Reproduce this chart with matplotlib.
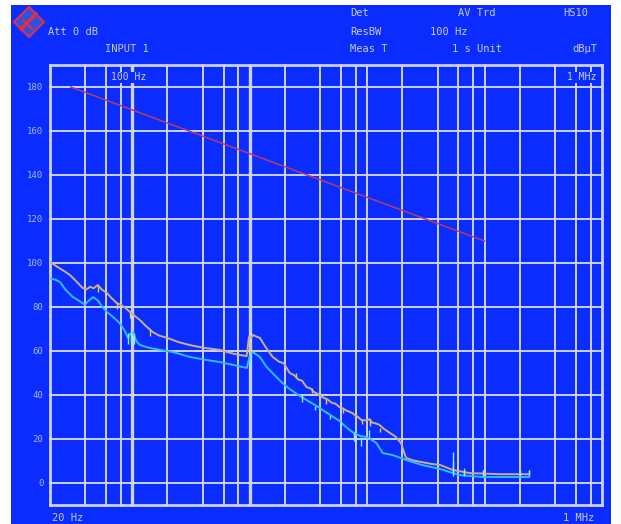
import numpy as np
import matplotlib.pyplot as plt
from matplotlib.patches import Rectangle, Polygon

# upper trace (tan)
f_upper = [20, 22, 24.3, 27, 29.6, 33, 38, 41, 43.8, 47, 51, 55, 61, 67, 74, 80, 86, 96, 105, 117,
           130, 150, 170, 198, 250, 310, 400, 557, 700, 824, 945, 988, 1030, 1068, 1150, 1221, 1400,
           1573, 1800, 1950, 2196, 2400, 2600, 2800, 3055, 3300, 3500, 3800, 4178, 4600, 5000, 5400,
           5829, 6200, 6600, 7000, 7502, 8000, 8400, 9000, 9857, 10500, 11000, 12000,
           12690, 14000, 15430, 17500, 19460, 21440, 25000, 29280, 35000, 41830, 53900, 75000, 134000, 240000]
v_upper = [100.5, 99, 97.5, 96, 94.5, 92, 88.6, 88, 89.2, 88.5, 90, 88, 86.4, 84, 81.8, 81, 80, 77.7, 76, 74,
           71.5, 68.6, 67, 66, 64, 62.7, 61.5, 60.5, 59, 58.2, 57.7, 66.4, 66, 67.3, 66.5, 66, 61,
           57.3, 55, 54.5, 50, 49, 47, 46.5, 43.6, 43, 41.5, 40.5, 39, 38, 36.5, 36,
           34.5, 34, 33, 32.5, 31.8, 30.5, 30, 28.5, 28.5, 29, 27.5, 27,
           26.5, 24.5, 23, 21, 18.2, 11.4, 10.2, 9.5, 8.7, 8.2, 5.9, 4.5, 4, 4]

# lower trace (cyan)
f_lower = [20, 22, 24.3, 27, 31.3, 35, 39.6, 43, 46.5, 51, 56, 61, 67, 74, 80, 86, 92, 97, 102, 106,
           110, 117, 141, 173, 224, 310, 420, 557, 750, 945, 1010, 1068, 1221, 1398, 1690, 1900, 2196,
           2600, 3055, 3600, 4178, 5000, 5829, 6600, 7502, 8600, 9857, 11000, 12000, 13600, 16500, 21440,
           29280, 41830, 61000, 96800, 240000]
v_lower = [93, 92.5, 91.4, 88, 84.5, 83, 81, 83, 84.5, 83, 80, 77.7, 76, 74, 72, 69.5, 66, 68, 68.6, 66,
           64, 62.7, 61.4, 60.5, 59.5, 57.3, 56, 55, 53.5, 52.3, 58.2, 59.5, 57.3, 52.7, 48.2, 45.5, 42.7,
           40, 37.7, 35.5, 33.2, 30.5, 28.2, 25.5, 23.2, 21.5, 20.9, 19.5, 18.2, 13.6, 12.7, 10.5,
           8.2, 6.4, 3.6, 2.7, 2.7]

# spikes: frequency, low, high
spk_yellow_f = [51, 74, 96, 141, 1000, 2500, 3400, 4500, 6200, 8000, 9000, 10500, 13000, 54000, 67000, 96800, 200000, 240000]
spk_yellow_lo = [87, 79, 75, 67, 58, 48, 41, 36, 32, 29, 27, 26, 23, 5, 4, 4, 4, 4]
spk_yellow_hi = [90, 82, 78, 70, 64, 50, 43, 38, 34, 31, 29, 29, 25, 10, 7, 6, 6, 6]
spk_cyan_f = [92, 98, 104, 1000, 2800, 3600, 4800, 6000, 7800, 8900, 10400, 54000, 67000, 96800, 200000, 240000]
spk_cyan_lo = [63, 64, 63, 53, 37, 33, 29, 26, 19, 17, 20, 3, 3, 3, 3, 3]
spk_cyan_hi = [68, 69, 68, 59, 40, 35, 31, 28, 23, 21, 24, 14, 6, 6, 6, 6]

# limit line
f_limit = [30, 100000]
v_limit = [180, 110]

grid_f = [40, 60, 80, 100, 200, 400, 600, 800, 1000, 2000, 4000, 6000, 8000, 10000,
          20000, 40000, 60000, 80000, 100000, 200000, 400000, 600000, 800000]
thick_f = [100, 1000]
grid_v = [0, 20, 40, 60, 80, 100, 120, 140, 160, 180]

blue = '#0a2cff'
grid_c = '#cdd2ff'
text_c = '#c8cce8'

fig = plt.figure(figsize=(6.21, 5.24), dpi=100)
fig.patch.set_facecolor('white')
fig.patches.append(Rectangle((11 / 621, 0), 600 / 621, 519 / 524, transform=fig.transFigure,
                             facecolor=blue, edgecolor='none', zorder=-5))

ax = fig.add_axes([50 / 621, 1 - 505 / 524, 552 / 621, 440 / 524])
ax.set_zorder(2)
ax.set_facecolor(blue)
ax.set_xscale('log')
ax.set_xlim(20, 1e6)
ax.set_ylim(-10, 190)
ax.set_xticks([])
ax.set_yticks([])
ax.minorticks_off()
for s in ax.spines.values():
    s.set_color(grid_c)
    s.set_linewidth(2)

for f in grid_f:
    ax.axvline(f, color=grid_c, lw=2.4 if f in thick_f else 1.4, zorder=1)
for v in grid_v:
    ax.axhline(v, color=grid_c, lw=1.4, zorder=1)

ax.plot(f_limit, v_limit, color='#b83c60', lw=1.1, zorder=3)
ax.plot(f_upper, v_upper, color='#c8b084', lw=1.4, zorder=4)
ax.plot(f_lower, v_lower, color='#30bcff', lw=1.4, zorder=4)
ax.vlines(spk_yellow_f, spk_yellow_lo, spk_yellow_hi, color='#e0c860', lw=1.0, zorder=5)
ax.vlines(spk_cyan_f, spk_cyan_lo, spk_cyan_hi, color='#80f0ff', lw=1.0, zorder=5)

# y labels
for v in grid_v:
    ax.text(-0.012, (v + 10) / 200, str(v), transform=ax.transAxes, ha='right', va='center',
            family='DejaVu Sans Mono', fontsize=6.5, color='#a8b4f0')

ax.text(0.11, 0.972, '100 Hz', transform=ax.transAxes, ha='left', va='center',
        family='DejaVu Sans Mono', fontsize=7, color=text_c,
        bbox=dict(facecolor=blue, edgecolor='none', pad=0.5), zorder=6)
ax.text(0.99, 0.972, '1 MHz', transform=ax.transAxes, ha='right', va='center',
        family='DejaVu Sans Mono', fontsize=7, color=text_c,
        bbox=dict(facecolor=blue, edgecolor='none', pad=0.5), zorder=6)

# header
hdr = [(350, 13, 'Det'), (458, 13, 'AV Trd'), (563, 13, 'HS10'),
       (48, 32, 'Att 0 dB'), (350, 32, 'ResBW'), (430, 32, '100 Hz'),
       (105, 49, 'INPUT 1'), (350, 49, 'Meas T'), (452, 49, '1 s Unit'), (572, 49, 'dBµT'),
       (52, 518, '20 Hz'), (563, 518, '1 MHz')]
for x, y, t in hdr:
    fig.text(x / 621, 1 - y / 524, t, ha='left', va='center', family='DejaVu Sans Mono',
             fontsize=7.5, color=text_c)

# logo
cx, cy, r = 29 / 621, 1 - 22 / 524, 15
fig.patches.append(Polygon([(cx, cy + r / 524), (cx + r / 621, cy), (cx, cy - r / 524), (cx - r / 621, cy)],
                           closed=True, transform=fig.transFigure, facecolor='#3050e0',
                           edgecolor='#e03048', lw=1.5, zorder=2))
fig.lines.append(plt.Line2D([cx - 8 / 621, cx + 7 / 621], [cy - 7 / 524, cy + 8 / 524],
                            transform=fig.transFigure, color='#e03048', lw=2.5, zorder=3))
fig.lines.append(plt.Line2D([cx - 6 / 621, cx + 3 / 621], [cy + 2 / 524, cy - 7 / 524],
                            transform=fig.transFigure, color='#e03048', lw=1.5, zorder=3))

fig.savefig('out.png', dpi=100, facecolor='white')
